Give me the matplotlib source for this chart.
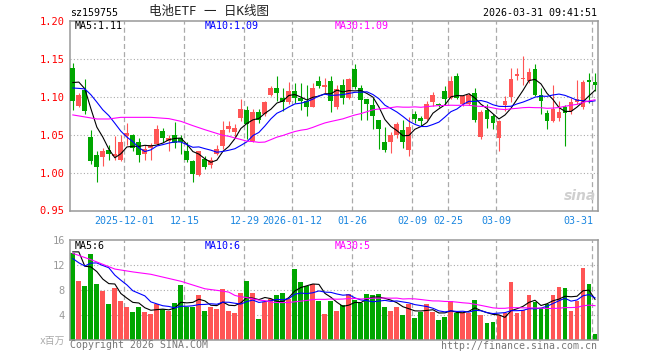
import matplotlib
matplotlib.use('Agg')
import matplotlib.pyplot as plt
import numpy as np
import pandas as pd

# daily bars, 2025-11-18 .. 2026-03-31 (88 trading days)
opens = [1.138, 1.088, 1.109, 1.047, 1.023, 1.020, 1.030, 1.022, 1.017, 1.048,
         1.050, 1.040, 1.024, 1.033, 1.038, 1.055, 1.042, 1.049, 1.046, 1.028,
         1.015, 0.997, 1.018, 1.010, 1.025, 1.035, 1.057, 1.054, 1.072, 1.082,
         1.042, 1.080, 1.077, 1.102, 1.111, 1.099, 1.093, 1.107, 1.099, 1.094,
         1.087, 1.121, 1.113, 1.121, 1.086, 1.115, 1.099, 1.137, 1.111, 1.097,
         1.089, 1.070, 1.041, 1.041, 1.050, 1.056, 1.030, 1.077, 1.072, 1.071,
         1.093, 1.090, 1.107, 1.099, 1.128, 1.090, 1.090, 1.105, 1.047, 1.083,
         1.075, 1.046, 1.089, 1.100, 1.128, 1.124, 1.121, 1.137, 1.103, 1.078,
         1.068, 1.072, 1.087, 1.081, 1.093, 1.087, 1.122, 1.119]
highs = [1.145, 1.105, 1.123, 1.056, 1.028, 1.032, 1.037, 1.048, 1.050, 1.066,
         1.051, 1.045, 1.037, 1.039, 1.063, 1.059, 1.049, 1.067, 1.049, 1.040,
         1.017, 1.029, 1.022, 1.020, 1.037, 1.068, 1.068, 1.064, 1.097, 1.088,
         1.084, 1.084, 1.094, 1.114, 1.128, 1.111, 1.119, 1.118, 1.118, 1.116,
         1.118, 1.128, 1.125, 1.128, 1.116, 1.124, 1.125, 1.143, 1.116, 1.097,
         1.099, 1.070, 1.060, 1.053, 1.067, 1.070, 1.074, 1.081, 1.075, 1.094,
         1.106, 1.092, 1.114, 1.127, 1.131, 1.102, 1.105, 1.111, 1.082, 1.090,
         1.077, 1.070, 1.101, 1.138, 1.138, 1.154, 1.138, 1.143, 1.111, 1.083,
         1.115, 1.094, 1.089, 1.099, 1.122, 1.122, 1.132, 1.131]
lows = [1.083, 1.086, 1.077, 1.011, 0.988, 1.009, 1.017, 1.016, 1.015, 1.036,
        1.029, 1.014, 1.017, 1.017, 1.036, 1.040, 1.028, 1.032, 1.025, 1.014,
        0.987, 0.996, 1.005, 1.006, 1.023, 1.031, 1.053, 1.046, 1.068, 1.044,
        1.040, 1.066, 1.075, 1.101, 1.094, 1.081, 1.091, 1.092, 1.083, 1.075,
        1.086, 1.112, 1.105, 1.080, 1.084, 1.090, 1.097, 1.110, 1.070, 1.070,
        1.058, 1.031, 1.027, 1.026, 1.046, 1.033, 1.022, 1.065, 1.061, 1.069,
        1.088, 1.086, 1.090, 1.097, 1.097, 1.088, 1.089, 1.067, 1.044, 1.059,
        1.057, 1.029, 1.081, 1.093, 1.122, 1.116, 1.118, 1.101, 1.077, 1.057,
        1.067, 1.068, 1.035, 1.077, 1.090, 1.084, 1.092, 1.107]
closes = [1.094, 1.103, 1.081, 1.015, 1.007, 1.028, 1.024, 1.024, 1.041, 1.052,
          1.033, 1.023, 1.031, 1.037, 1.058, 1.046, 1.045, 1.039, 1.040, 1.017,
          0.998, 1.028, 1.008, 1.017, 1.031, 1.056, 1.061, 1.059, 1.084, 1.064,
          1.080, 1.070, 1.093, 1.111, 1.105, 1.093, 1.107, 1.099, 1.094, 1.086,
          1.111, 1.114, 1.115, 1.094, 1.110, 1.099, 1.123, 1.113, 1.096, 1.091,
          1.075, 1.058, 1.030, 1.050, 1.064, 1.041, 1.060, 1.071, 1.068, 1.091,
          1.102, 1.089, 1.097, 1.121, 1.099, 1.101, 1.102, 1.069, 1.080, 1.071,
          1.066, 1.068, 1.095, 1.124, 1.130, 1.125, 1.133, 1.103, 1.094, 1.068,
          1.084, 1.080, 1.078, 1.093, 1.097, 1.119, 1.119, 1.115]
# volume in millions
volumes = [13.9, 9.4, 8.6, 13.8, 9.0, 7.9, 5.8, 8.3, 6.2, 5.3,
           4.5, 5.3, 4.5, 4.2, 5.8, 4.9, 4.7, 6.0, 8.8, 5.3,
           5.3, 7.2, 4.7, 5.3, 5.0, 8.2, 4.6, 4.4, 7.5, 9.4,
           7.6, 3.4, 6.1, 6.6, 7.2, 7.5, 6.6, 11.4, 9.3, 8.6,
           8.9, 6.3, 4.2, 6.2, 4.6, 5.6, 7.3, 6.4, 6.0, 7.4,
           7.2, 7.4, 5.3, 4.6, 5.3, 4.0, 5.8, 3.6, 4.5, 5.8,
           4.5, 3.2, 3.7, 6.2, 4.4, 4.3, 4.4, 6.4, 4.0, 2.8,
           2.9, 4.0, 4.4, 9.3, 4.4, 4.8, 7.2, 6.1, 5.1, 5.8,
           7.2, 8.5, 8.4, 4.7, 6.2, 11.6, 9.0, 1.0]
# earlier days (off chart), only used to seed the moving averages
prev_close = [1.143, 1.121, 1.055, 1.048, 1.028, 1.024, 0.991, 1.009, 1.052, 1.033,
              1.023, 1.031, 1.037, 1.075, 1.063, 1.062, 1.092, 1.093, 1.103, 1.084,
              1.108, 1.088, 1.091, 1.105, 1.130, 1.100, 1.125, 1.145, 1.130]
prev_vol = [19.4, 18.6, 23.8, 20.3, 19.2, 17.1, 19.6, 10.8, 9.9, 9.1,
            9.1, 8.3, 8.0, 12.5, 11.6, 11.4, 12.7, 15.5, 14.3, 14.3,
            16.2, 13.7, 9.1, 8.8, 12.0, 9.4, 20.1, 14.3, 12.8]

tick_idx = [9, 19, 29, 37, 47, 57, 63, 71, 87]
tick_labels = ['2025-12-01', '12-15', '12-29', '2026-01-12', '01-26',
               '02-09', '02-25', '03-09', '03-31']

RED = '#ff5555'
GREEN = '#00a600'
GRID = '#aaaaaa'
MONO = 'DejaVu Sans Mono'

W, H = 660, 360


def rect(l, t, r, b):
    return [l / W, 1 - b / H, (r - l) / W, (b - t) / H]


def ma(vals, prev, n):
    s = pd.Series(list(prev) + list(vals)).rolling(n).mean()
    return s.iloc[len(prev):].values


fig = plt.figure(figsize=(6.6, 3.6), dpi=100)
fig.patch.set_facecolor('white')
ax1 = fig.add_axes(rect(70.3, 21, 598.3, 210.5))
ax2 = fig.add_axes(rect(70.3, 240, 598.3, 340))

o = np.array(opens)
c = np.array(closes)
hi = np.array(highs)
lo = np.array(lows)
v = np.array(volumes)
x = np.arange(len(c))
up = c >= o
cols = [RED if u else GREEN for u in up]
xl = (-0.42, 87.55)

# price panel
for yv in [1.00, 1.05, 1.10, 1.15]:
    ax1.axhline(yv, color=GRID, lw=0.8, ls=(0, (1, 2)), zorder=0)
for yv in [4, 8, 12]:
    ax2.axhline(yv, color=GRID, lw=0.8, ls=(0, (1, 2)), zorder=0)
for ax in (ax1, ax2):
    for t in tick_idx:
        ax.axvline(t - 0.42, color=GRID, lw=0.9, ls=(0, (4, 2.5)), zorder=0)

ax1.vlines(x, lo, hi, colors=cols, lw=0.8, zorder=2)
body = np.maximum(np.abs(c - o), 0.0013)
ax1.bar(x, body, bottom=np.minimum(o, c), width=0.82, color=cols, lw=0, zorder=3)

ax1.plot(x, ma(c, prev_close, 5), color='black', lw=0.8, zorder=4)
ax1.plot(x, ma(c, prev_close, 10), color='#0000ff', lw=0.8, zorder=4)
ax1.plot(x, ma(c, prev_close, 30), color='#ff00ff', lw=0.8, zorder=4)

ax1.set_xlim(*xl)
ax1.set_ylim(0.95, 1.20)
ax1.set_yticks([0.95, 1.00, 1.05, 1.10, 1.15, 1.20])
ax1.set_yticklabels(['%.2f' % t for t in [0.95, 1.00, 1.05, 1.10, 1.15, 1.20]],
                    color='#ff0000', fontsize=7.5, family=MONO)
ax1.set_xticks([])
ax1.tick_params(axis='y', length=0, pad=4)

for t, lab in zip(tick_idx, tick_labels):
    ha = 'right' if t == tick_idx[-1] else 'center'
    xx = t - 0.42 if ha == 'center' else t - 0.2
    ax1.text(xx, -0.055, lab, transform=ax1.get_xaxis_transform(), ha=ha,
             va='center', color='#1a86e0', fontsize=7.2, family=MONO)

# volume panel
ax2.bar(x, v, width=0.82, color=cols, lw=0, zorder=2)
ax2.plot(x, ma(v, prev_vol, 5), color='black', lw=0.8, zorder=4)
ax2.plot(x, ma(v, prev_vol, 10), color='#0000ff', lw=0.8, zorder=4)
ax2.plot(x, ma(v, prev_vol, 30), color='#ff00ff', lw=0.8, zorder=4)
ax2.set_xlim(*xl)
ax2.set_ylim(0, 16)
ax2.set_yticks([4, 8, 12, 16])
ax2.set_yticklabels(['4', '8', '12', '16'], color='#999999', fontsize=7.5, family=MONO)
ax2.set_xticks([])
ax2.tick_params(axis='y', length=0, pad=4)

for ax in (ax1, ax2):
    for s in ax.spines.values():
        s.set_color('#999999')
        s.set_linewidth(1.1)

# labels inside panels
def ftext(px, py, s, color, **kw):
    fig.text(px / W, 1 - py / H, s, color=color, va='center', **kw)

ftext(75, 26, 'MA5:1.11', 'black', fontsize=7.2, family=MONO)
ftext(205, 26, 'MA10:1.09', '#0000ff', fontsize=7.2, family=MONO)
ftext(335, 26, 'MA30:1.09', '#ff00ff', fontsize=7.2, family=MONO)
ftext(75, 246, 'MA5:6', 'black', fontsize=7.2, family=MONO)
ftext(205, 246, 'MA10:6', '#0000ff', fontsize=7.2, family=MONO)
ftext(335, 246, 'MA30:5', '#ff00ff', fontsize=7.2, family=MONO)

ftext(70, 13, 'sz159755', 'black', fontsize=7.2, family=MONO)
ftext(209, 12, '电池ETF 一 日K线图', '#222222', fontsize=9, ha='center',
      family=[MONO, 'Noto Sans CJK SC'])
ftext(597, 13, '2026-03-31 09:41:51', 'black', fontsize=7.2, family=MONO, ha='right')

ftext(65, 341, 'x百万', '#aaaaaa', fontsize=7, ha='right',
      family=[MONO, 'Noto Sans CJK SC'])
ftext(70, 345, 'Copyright 2026 SINA.COM', '#777777', fontsize=7.1, family=MONO)
ftext(597, 346, 'http://finance.sina.com.cn', '#777777', fontsize=7.1,
      family=MONO, ha='right')

# faint sina watermark
ftext(596, 196, 'sina', '#cfcfcf', fontsize=10, family='DejaVu Sans',
      ha='right', weight='bold', style='italic')

fig.savefig('out.png', dpi=100)
